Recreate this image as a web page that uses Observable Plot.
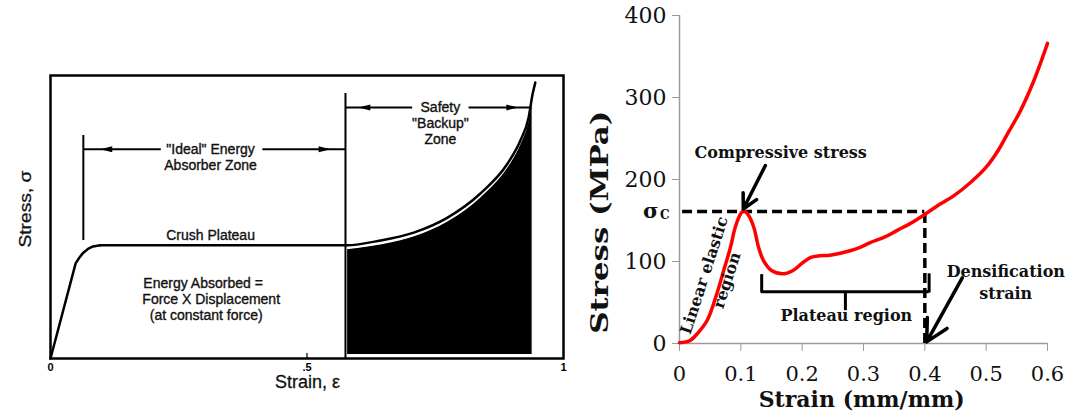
<!DOCTYPE html>
<html><head><meta charset="utf-8">
<script src="https://cdn.jsdelivr.net/npm/d3@7"></script>
<script src="https://cdn.jsdelivr.net/npm/@observablehq/plot@0.6"></script>
<style>
html,body{margin:0;padding:0;background:#fff;}
#wrap{position:relative;width:1070px;height:416px;overflow:hidden;background:#fff;}
#left{position:absolute;left:0;top:0;}
#right{position:absolute;left:580px;top:0;}
</style></head><body>
<div id="wrap"><div id="left"></div><div id="right"></div></div>
<script>
// ---------- Left panel: idealised energy absorber curve (normalised units) ----------
const idealStrain = [0, 0.049, 0.056, 0.064, 0.073, 0.083, 0.097, 0.3, 0.578, 0.643, 0.708, 0.774, 0.838, 0.891, 0.916, 0.932, 0.940, 0.945];
const idealStress = [0, 0.336, 0.356, 0.374, 0.387, 0.396, 0.40, 0.40, 0.40, 0.417, 0.445, 0.498, 0.583, 0.689, 0.770, 0.852, 0.936, 0.975];
const leftXTicks = [0, 0.5, 1];
const leftXTickLabels = ["0", ".5", "1"];
const idealZone = [0.064, 0.575];      // strain bounds of "ideal" zone
const safetyZone = [0.575, 0.937];     // strain bounds of safety zone
const leftNotes = [
  {text: "\"Ideal\" Energy", x: 0.312, y: 0.739, anchor: "middle"},
  {text: "Absorber Zone", x: 0.312, y: 0.682, anchor: "middle"},
  {text: "Safety", x: 0.760, y: 0.887, anchor: "middle"},
  {text: "\"Backup\"", x: 0.760, y: 0.830, anchor: "middle"},
  {text: "Zone", x: 0.760, y: 0.774, anchor: "middle"},
  {text: "Crush Plateau", x: 0.312, y: 0.435, anchor: "middle"},
  {text: "Energy Absorbed =", x: 0.181, y: 0.265, anchor: "start"},
  {text: "Force X Displacement", x: 0.179, y: 0.208, anchor: "start"},
  {text: " (at constant force)", x: 0.186, y: 0.152, anchor: "start"}
];
const leftArrowSegs = [
  {x1: 0.215, x2: idealZone[0], y: 0.739},
  {x1: 0.413, x2: idealZone[1], y: 0.739},
  {x1: 0.705, x2: safetyZone[0], y: 0.887},
  {x1: 0.815, x2: safetyZone[1], y: 0.887}
];
const leftArrowHeads = [
  {x: 0.097, y: 0.739, dir: -90},
  {x: 0.546, y: 0.739, dir: 90},
  {x: 0.600, y: 0.887, dir: -90},
  {x: 0.912, y: 0.887, dir: 90}
];

// ---------- Right panel: measured stress-strain curve ----------
const strain = [0, 0.01, 0.018, 0.029, 0.045, 0.061, 0.072, 0.083, 0.091, 0.0995, 0.105, 0.112, 0.121, 0.129, 0.137, 0.15, 0.17, 0.185, 0.2, 0.214, 0.228, 0.245, 0.262, 0.29, 0.311, 0.335, 0.355, 0.38, 0.401, 0.425, 0.447, 0.474, 0.5, 0.52, 0.535, 0.556, 0.578, 0.6];
const stress = [1, 2, 4, 12, 28, 61, 89, 117, 142, 158, 162, 157, 142, 117, 101, 89, 85, 89, 98, 105, 107, 107.5, 110, 116, 123, 130, 138, 148, 158, 170, 180, 196, 215, 236, 256, 284, 321, 366];
const xTicks = [0, 0.1, 0.2, 0.3, 0.4, 0.5, 0.6];
const yTicks = [0, 100, 200, 300, 400];
const sigmaC = 161;
const densStrain = 0.4;
const plateauRange = [0.134, 0.407];
const bracketLevel = 63;
const rightNotes = [
  {text: "Compressive stress", x: 0.165, y: 232},
  {text: "Plateau region", x: 0.272, y: 34},
  {text: "Densification", x: 0.532, y: 87},
  {text: "strain", x: 0.532, y: 61}
];
const rotatedNotes = [
  {text: "Linear elastic", x: 0.0405, y: 83},
  {text: "region", x: 0.0775, y: 77}
];
const rightArrows = [
  {x1: 0.140, y1: 217, x2: 0.104, y2: 164},
  {x1: 0.461, y1: 80, x2: 0.403, y2: 2}
];

// ---------- build left ----------
const idealPts = idealStrain.map((x, i) => ({x, y: idealStress[i]}));
const fillPts = idealPts.filter(d => d.x >= 0.578 && d.x <= 0.940);

const left = Plot.plot({
  width: 580, height: 416,
  marginLeft: 50, marginRight: 17, marginTop: 75, marginBottom: 58,
  x: {domain: [0, 1]},
  y: {domain: [0, 1], axis: null},
  style: {fontFamily: "'Liberation Sans', Arial, sans-serif", color: "#000", background: "#fff", overflow: "visible"},
  marks: [
    Plot.areaY(fillPts, {x: "x", y1: () => 0.012, y2: d => d.y - 0.014, fill: "black", stroke: "white", strokeWidth: 1.2, curve: "monotone-x"}),
    Plot.frame({stroke: "black", strokeWidth: 2.5}),
    Plot.line(idealPts.slice(0, 7), {x: "x", y: "y", stroke: "black", strokeWidth: 2.5, curve: "linear"}),
    Plot.line(idealPts.slice(6), {x: "x", y: "y", stroke: "black", strokeWidth: 2.5, curve: "monotone-x"}),
    Plot.ruleX([idealZone[0]], {y1: () => 0.417, y2: () => 0.788, stroke: "black", strokeWidth: 2}),
    Plot.ruleX([idealZone[1]], {y1: () => 0, y2: () => 0.936, stroke: "black", strokeWidth: 2}),
    Plot.ruleX([0.5], {y1: () => 0, y2: () => 0.018, stroke: "black", strokeWidth: 1.2}),
    Plot.link(leftArrowSegs, {x1: "x1", x2: "x2", y1: "y", y2: "y", stroke: "black", strokeWidth: 2}),
    Plot.vector(leftArrowHeads, {x: "x", y: "y", rotate: "dir", length: 12, r: 3, shape: "spike", anchor: "end", fill: "black", stroke: "none"}),
    Plot.text(leftNotes, {x: "x", y: "y", text: "text", textAnchor: "start", fontSize: 14, fill: "#111", stroke: "#111", strokeWidth: 0.35, filter: d => d.anchor === "start"}),
    Plot.text(leftNotes, {x: "x", y: "y", text: "text", textAnchor: "middle", fontSize: 14, fill: "#111", stroke: "#111", strokeWidth: 0.35, filter: d => d.anchor === "middle"}),
    Plot.text(["Stress, σ"], {text: d => d, y: () => 0.392, frameAnchor: "left", dx: -25, rotate: -90, textAnchor: "start", fontSize: 17, fill: "#111", stroke: "#111", strokeWidth: 0.3}),
    Plot.text(["Strain, ε"], {text: d => d, x: () => 0.501, frameAnchor: "bottom", dy: 29, fontSize: 18, fill: "#111", stroke: "#111", strokeWidth: 0.3}),
    Plot.axisX({ticks: leftXTicks, tickFormat: d => leftXTickLabels[leftXTicks.indexOf(d)], tickSize: 0, tickPadding: 5, fontSize: 11, fontWeight: "bold", label: null})
  ]
});
document.getElementById("left").appendChild(left);

// ---------- build right ----------
const curve = strain.map((x, i) => ({x, y: stress[i]}));
const grey = "#9a9a9a";
const serif = "'DejaVu Serif', 'Liberation Serif', serif";

const right = Plot.plot({
  width: 490, height: 416,
  marginLeft: 99, marginRight: 23, marginTop: 15, marginBottom: 73,
  x: {domain: [0, 0.6]},
  y: {domain: [0, 400]},
  style: {fontFamily: serif, color: "#111", background: "#fff", overflow: "visible"},
  marks: [
    Plot.axisY({ticks: yTicks, tickSize: 7, tickPadding: 6, fontSize: 22, stroke: grey, label: null}),
    Plot.axisX({ticks: xTicks, tickSize: 8, tickPadding: 15, fontSize: 21, stroke: grey, label: null, tickFormat: d => d === 0 ? "0" : d.toFixed(1)}),
    Plot.ruleX([0], {y1: () => 0, y2: () => 400, stroke: grey, strokeWidth: 1.5}),
    Plot.ruleY([0], {x1: () => 0, x2: () => 0.6, stroke: grey, strokeWidth: 1.5}),
    Plot.ruleY([sigmaC], {x1: () => 0.005, x2: () => densStrain, stroke: "black", strokeWidth: 3.5, strokeDasharray: "10,5"}),
    Plot.ruleX([densStrain], {y1: () => 0, y2: () => sigmaC, stroke: "black", strokeWidth: 3.5, strokeDasharray: "10,5"}),
    Plot.ruleY([bracketLevel], {x1: () => plateauRange[0], x2: () => plateauRange[1], stroke: "black", strokeWidth: 3}),
    Plot.ruleX([plateauRange[0]], {y1: () => bracketLevel - 1.5, y2: () => 84, stroke: "black", strokeWidth: 3}),
    Plot.ruleX([plateauRange[1]], {y1: () => bracketLevel - 1.5, y2: () => 85, stroke: "black", strokeWidth: 3}),
    Plot.ruleX([(plateauRange[0] + plateauRange[1]) / 2], {y1: () => 40, y2: () => bracketLevel, stroke: "black", strokeWidth: 3}),
    Plot.line(curve, {x: "x", y: "y", stroke: "#ff0000", strokeWidth: 3.5, curve: "catmull-rom"}),
    Plot.arrow(rightArrows, {x1: "x1", y1: "y1", x2: "x2", y2: "y2", stroke: "black", strokeWidth: 3.5, headLength: 16, headAngle: 55}),
    Plot.text(rightNotes, {x: "x", y: "y", text: "text", fontSize: 16, fontWeight: "bold", fill: "#111"}),
    Plot.text(rotatedNotes, {x: "x", y: "y", text: "text", fontSize: 16, fontWeight: "bold", rotate: -72, fill: "#111"}),
    Plot.text(["σ"], {text: d => d, x: () => 0, y: () => sigmaC, dx: -21, textAnchor: "end", fontSize: 21, fontWeight: "bold", fill: "#111"}),
    Plot.text(["C"], {text: d => d, x: () => 0, y: () => sigmaC, dx: -10, dy: 4, textAnchor: "end", fontSize: 12, fontWeight: "bold", fill: "#111"}),
    Plot.text(["Stress (MPa)"], {text: d => d, y: () => 12, frameAnchor: "left", dx: -79, rotate: -90, textAnchor: "start", fontSize: 24, fontWeight: "bold", fill: "#111"}),
    Plot.text(["Strain (mm/mm)"], {text: d => d, x: () => 0.297, frameAnchor: "bottom", dy: 63, fontSize: 22, fontWeight: "bold", fill: "#111"})
  ]
});
document.getElementById("right").appendChild(right);

// stretch the tall rotated titles to the reference's length
d3.select(right).selectAll("text").filter(function() { return this.textContent === "Stress (MPa)"; })
  .attr("textLength", 223).attr("lengthAdjust", "spacingAndGlyphs");
d3.select(left).selectAll("text").filter(function() { return this.textContent === "Stress, σ"; })
  .attr("textLength", 77).attr("lengthAdjust", "spacingAndGlyphs");
</script></body></html>
